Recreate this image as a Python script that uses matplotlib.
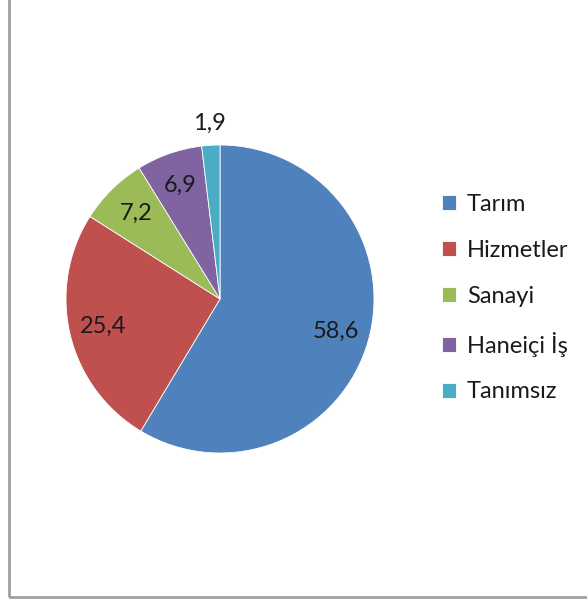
import numpy as np
import matplotlib.pyplot as plt
from matplotlib.patches import Rectangle

categories = ["Tarım", "Hizmetler", "Sanayi", "Haneiçi İş", "Tanımsız"]
values = [58.6, 25.4, 7.2, 6.9, 1.9]
value_labels = ["58,6", "25,4", "7,2", "6,9", "1,9"]
colors = ["#4F81BD", "#C0504D", "#9BBB59", "#8064A2", "#4BACC6"]

plt.rcParams['font.family'] = ['Lato', 'DejaVu Sans']

fig = plt.figure(figsize=(5.87, 6.0), dpi=100)

# grey chart frame
fig.patches.append(Rectangle((9 / 587, 3 / 600), 1.0, 1.0, transform=fig.transFigure,
                             fill=False, edgecolor="#A0A0A0", linewidth=2))

ax = fig.add_axes([60 / 587, 141 / 600, 320 / 587, 320 / 600])
wedges, _ = ax.pie(values, colors=colors, startangle=90, counterclock=False,
                   radius=1.0, wedgeprops=dict(edgecolor="white", linewidth=0.6))
ax.set_xlim(-160 / 154, 160 / 154)
ax.set_ylim(-160 / 154, 160 / 154)
ax.set_aspect("equal")
ax.axis("off")

for w, lab in zip(wedges, value_labels):
    mid = np.deg2rad((w.theta1 + w.theta2) / 2)
    r = 1.14 if lab == "1,9" else 0.78
    ax.text(r * np.cos(mid), r * np.sin(mid), lab, ha="center", va="center",
            fontsize=17, color="#1a1a1a")

leg = fig.legend(wedges, categories, loc="upper left",
                 bbox_to_anchor=(421 / 587, 1 - 173 / 600), frameon=False,
                 fontsize=17, handlelength=0.6, handleheight=0.6,
                 handletextpad=0.45, labelspacing=1.05)
for t in leg.get_texts():
    t.set_color("#1a1a1a")

fig.savefig("out.png", dpi=100)
